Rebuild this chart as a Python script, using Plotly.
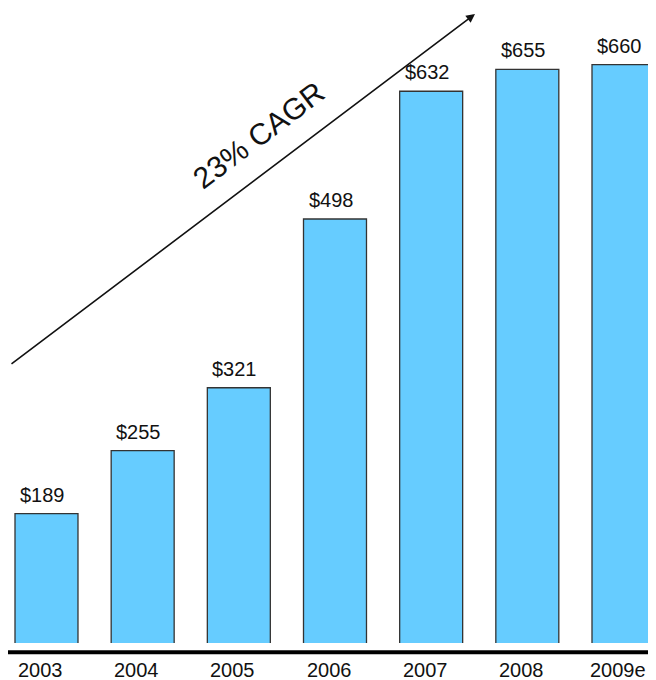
import plotly.graph_objects as go

years = ["2003", "2004", "2005", "2006", "2007", "2008", "2009e"]
values = [189, 255, 321, 498, 632, 655, 660]
labels = ["$189", "$255", "$321", "$498", "$632", "$655", "$660"]
cagr_text = "23% CAGR"

FONT = "Liberation Sans, Arial, sans-serif"

# page has an 8px body margin; figure is sized/positioned to compensate
W, H = 648, 672
PLOT_H = 634.7

fig = go.Figure()
fig.add_trace(go.Bar(
    x=years, y=values,
    width=0.655,
    marker=dict(color="#66CCFF", line=dict(color="#333333", width=1.3)),
    hoverinfo="skip",
))

for i, (v, lb) in enumerate(zip(values, labels)):
    fig.add_annotation(x=i, y=v, text=lb, showarrow=False,
                       xanchor="center", yanchor="bottom", yshift=6, xshift=-4,
                       font=dict(family=FONT, size=20, color="#111111"))

# category labels below the baseline
for i, yr in enumerate(years):
    fig.add_annotation(x=i, yref="paper", y=-(662-PLOT_H)/PLOT_H, text=yr,
                       showarrow=False, xanchor="center", yanchor="middle", xshift=-6,
                       font=dict(family=FONT, size=20, color="#111111"))

# growth arrow
fig.add_annotation(xref="paper", yref="paper", x=467/W, y=(PLOT_H-6)/PLOT_H,
                   ax=-465, ay=351, text="", showarrow=True,
                   arrowhead=2, arrowsize=1.1, arrowwidth=1.6, arrowcolor="#111111")
fig.add_annotation(xref="paper", yref="paper", x=250/W, y=(PLOT_H-127)/PLOT_H,
                   text=cagr_text, showarrow=False, textangle=-37,
                   xanchor="center", yanchor="middle",
                   font=dict(family=FONT, size=30, color="#111111"))

# baseline
fig.add_shape(type="line", xref="paper", yref="paper", x0=0, x1=1,
              y0=-(644-PLOT_H)/PLOT_H, y1=-(644-PLOT_H)/PLOT_H,
              line=dict(color="#000000", width=4))

fig.update_layout(
    width=W, height=H,
    margin=dict(l=0, r=0, t=0, b=H-PLOT_H, autoexpand=False),
    paper_bgcolor="white", plot_bgcolor="white",
    showlegend=False,
    xaxis=dict(type="category", range=[-0.4003, 6.338], showgrid=False, zeroline=False,
               showline=False, ticks="", showticklabels=False, fixedrange=True),
    yaxis=dict(range=[53.3, 719.3], visible=False, fixedrange=True),
)

fig.write_html("out.html")
